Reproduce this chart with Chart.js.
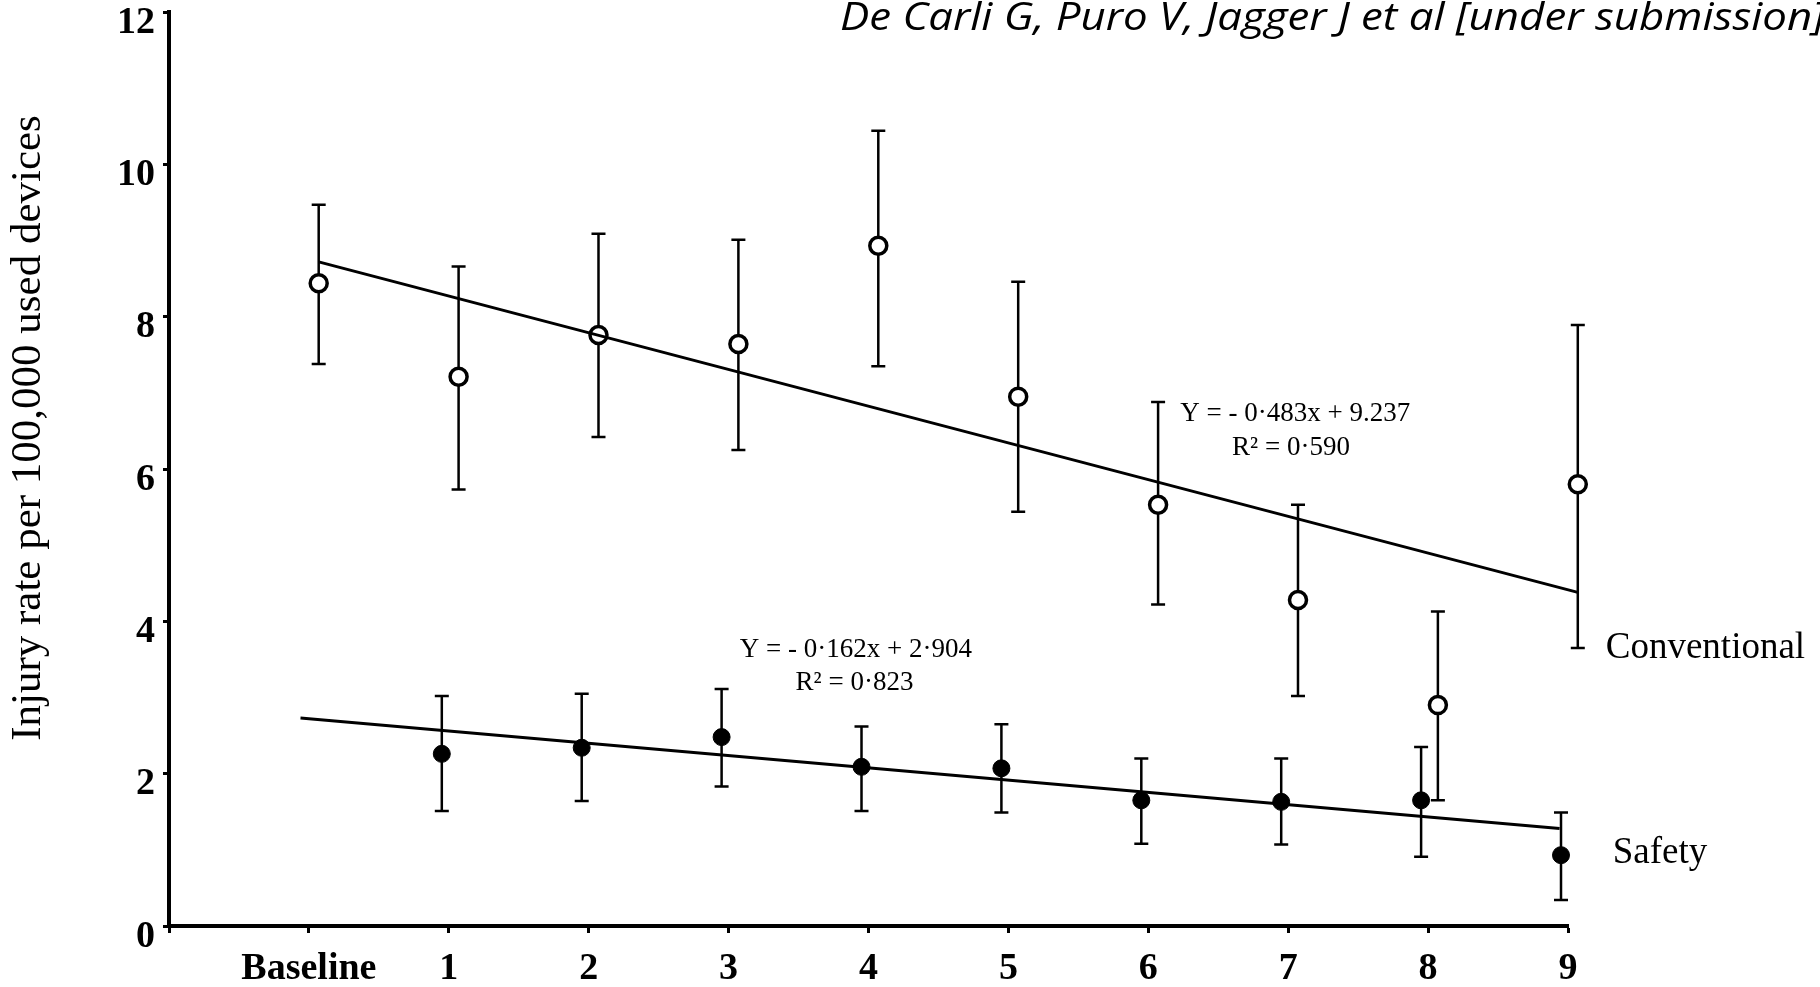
<!DOCTYPE html>
<html lang="en">
<head>
    <meta charset="UTF-8">
    <title>Injury rate per 100,000 used devices</title>
    <script src="https://cdn.jsdelivr.net/npm/chart.js"></script>
    <style>
        body {
            margin: 0;
            background: #fff;
        }
        #chart {
            display: block;
        }
    </style>
</head>
<body>

    <canvas id="chart" width="1820" height="987"></canvas>

    <script>
        // периоды: baseline + 9
        const periods = ['Baseline', '1', '2', '3', '4', '5', '6', '7', '8', '9'];
        const yTicks = [0, 2, 4, 6, 8, 10, 12];

        // Conventional devices
        const convRate = [8.44, 7.21, 7.76, 7.64, 8.93, 6.95, 5.53, 4.28, 2.90, 5.80];
        const convHigh = [9.47, 8.66, 9.09, 9.01, 10.44, 8.46, 6.88, 5.53, 4.13, 7.89];
        const convLow  = [7.38, 5.73, 6.42, 6.25, 7.35, 5.44, 4.22, 3.02, 1.65, 3.65];
        const convTrend = [8.72, 4.38];   // baseline .. 9

        // Safety devices
        const safeRate = [null, 2.26, 2.34, 2.48, 2.09, 2.07, 1.65, 1.63, 1.65, 0.93];
        const safeHigh = [null, 3.02, 3.05, 3.11, 2.62, 2.65, 2.20, 2.20, 2.35, 1.49];
        const safeLow  = [null, 1.51, 1.64, 1.83, 1.51, 1.49, 1.08, 1.07, 0.91, 0.34];
        const safeTrend = [2.73, 1.28];

        const convShift = 0.07;
        const safeShift = -0.05;

        function pts(values, shift) {
            let out = [];
            values.forEach((v, i) => {
                if (v !== null) out.push({x: i + shift, y: v});
            });
            return out;
        }

        function trend(ends, shift) {
            return [
                {x: 0 + shift, y: ends[0]},
                {x: periods.length - 1 + shift, y: ends[1]}
            ];
        }

        const serif = "'Liberation Serif', 'Times New Roman', serif";

        // усы (error bars) под маркерами
        const errorBars = {
            id: 'errorBars',
            beforeDatasetsDraw(chart) {
                const ctx = chart.ctx;
                const xs = chart.scales.x, ys = chart.scales.y;
                ctx.save();
                ctx.strokeStyle = '#000';
                ctx.lineWidth = 2.5;
                const draw = (hi, lo, shift) => {
                    hi.forEach((h, i) => {
                        if (h === null) return;
                        const x = xs.getPixelForValue(i + shift);
                        const y1 = ys.getPixelForValue(h);
                        const y2 = ys.getPixelForValue(lo[i]);
                        ctx.beginPath();
                        ctx.moveTo(x, y1); ctx.lineTo(x, y2);
                        ctx.moveTo(x - 7, y1); ctx.lineTo(x + 7, y1);
                        ctx.moveTo(x - 7, y2); ctx.lineTo(x + 7, y2);
                        ctx.stroke();
                    });
                };
                draw(convHigh, convLow, convShift);
                draw(safeHigh, safeLow, safeShift);
                ctx.restore();
            }
        };

        // подписи, уравнения, ось Y, ссылка
        const labels = {
            id: 'labels',
            afterDraw(chart) {
                const ctx = chart.ctx;
                const xs = chart.scales.x, ys = chart.scales.y;
                const px = v => xs.getPixelForValue(v);
                const py = v => ys.getPixelForValue(v);
                ctx.save();
                ctx.fillStyle = '#000';
                ctx.textBaseline = 'middle';

                ctx.font = '27px ' + serif;
                ctx.textAlign = 'center';
                ctx.fillText('Y = - 0·483x + 9.237', px(7.05), py(6.72));
                ctx.fillText('R² = 0·590', px(7.02), py(6.28));
                ctx.fillText('Y = - 0·162x + 2·904', px(3.91), py(3.62));
                ctx.fillText('R² = 0·823', px(3.90), py(3.19));

                ctx.font = '37px ' + serif;
                ctx.textAlign = 'left';
                ctx.fillText('Conventional', px(9.27), py(3.65));
                ctx.fillText('Safety', px(9.32), py(0.95));

                ctx.save();
                ctx.font = '43px ' + serif;
                ctx.translate(29, 428);
                ctx.rotate(-Math.PI / 2);
                ctx.textAlign = 'center';
                ctx.fillText('Injury rate per 100,000 used devices', 0, 0);
                ctx.restore();

                const cite = 'De Carli G, Puro V, Jagger J et al [under submission]';
                ctx.font = "italic 39px 'Open Sans', sans-serif";
                ctx.textBaseline = 'alphabetic';
                const w = ctx.measureText(cite).width;
                ctx.translate(840, 30);
                ctx.scale(985 / w, 1);
                ctx.fillText(cite, 0, 0);
                ctx.restore();
            }
        };

        const ctx = document.getElementById('chart').getContext('2d');

        new Chart(ctx, {
            type: 'scatter',
            data: {
                datasets: [
                    {
                        label: 'Conventional trend',
                        data: trend(convTrend, convShift),
                        showLine: true,
                        borderColor: '#000',
                        borderWidth: 3,
                        pointRadius: 0,
                        clip: false
                    },
                    {
                        label: 'Safety trend',
                        data: trend(safeTrend, safeShift - 0.01),
                        showLine: true,
                        borderColor: '#000',
                        borderWidth: 3,
                        pointRadius: 0,
                        clip: false
                    },
                    {
                        label: 'Conventional',
                        data: pts(convRate, convShift),
                        pointStyle: 'circle',
                        pointRadius: 8.5,
                        backgroundColor: '#fff',
                        borderColor: '#000',
                        borderWidth: 3.5,
                        clip: false
                    },
                    {
                        label: 'Safety',
                        data: pts(safeRate, safeShift),
                        pointStyle: 'circle',
                        pointRadius: 8.5,
                        backgroundColor: '#000',
                        borderColor: '#000',
                        borderWidth: 1,
                        clip: false
                    }
                ]
            },
            options: {
                responsive: false,
                animation: false,
                layout: {
                    padding: {left: 0, right: 252, top: 11, bottom: 0}
                },
                plugins: {
                    legend: {display: false},
                    tooltip: {enabled: false}
                },
                elements: {
                    line: {tension: 0}
                },
                scales: {
                    x: {
                        type: 'linear',
                        min: -1,
                        max: periods.length - 1,
                        afterBuildTicks: s => {
                            s.ticks = [{value: -1}].concat(periods.map((p, i) => ({value: i})));
                        },
                        afterFit: s => {
                            s.height = 61;
                            s.paddingLeft = 0;
                            s.paddingRight = 0;
                        },
                        border: {display: true, color: '#000', width: 4},
                        grid: {
                            drawOnChartArea: false,
                            drawTicks: true,
                            tickLength: 7,
                            tickWidth: 3,
                            tickColor: '#000'
                        },
                        ticks: {
                            color: '#000',
                            padding: 13,
                            maxRotation: 0,
                            autoSkip: false,
                            font: {family: serif, size: 38, weight: 'bold'},
                            callback: v => v < 0 ? '' : periods[v]
                        }
                    },
                    y: {
                        min: 0,
                        max: 12,
                        afterBuildTicks: s => {
                            s.ticks = yTicks.map(v => ({value: v}));
                        },
                        afterFit: s => {
                            s.width = 169;
                            s.paddingTop = 0;
                            s.paddingBottom = 0;
                        },
                        border: {display: true, color: '#000', width: 4},
                        grid: {
                            drawOnChartArea: false,
                            drawTicks: true,
                            tickLength: 6,
                            tickWidth: 3,
                            tickColor: '#000'
                        },
                        ticks: {
                            color: '#000',
                            padding: 8,
                            labelOffset: 11,
                            font: {family: serif, size: 38, weight: 'bold'}
                        }
                    }
                }
            },
            plugins: [errorBars, labels]
        });
    </script>

</body>
</html>
